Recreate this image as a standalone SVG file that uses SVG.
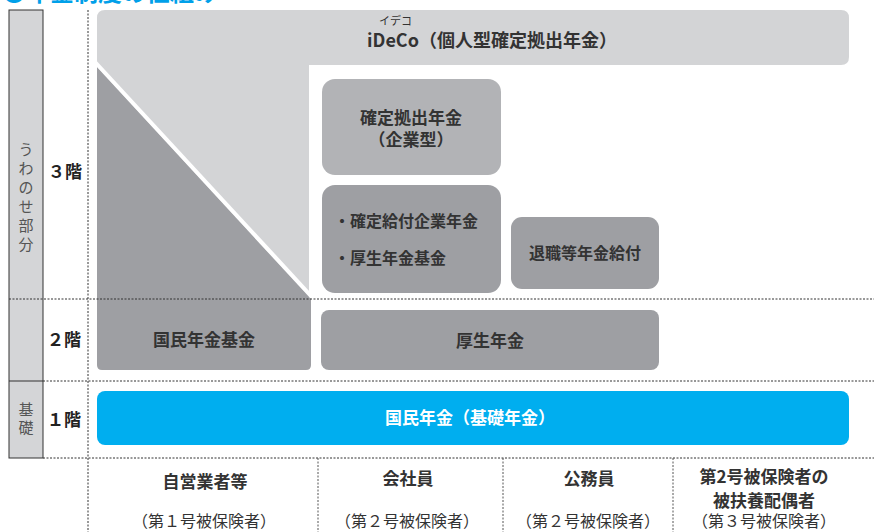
<svg xmlns="http://www.w3.org/2000/svg" width="874" height="532" viewBox="0 0 874 532">
<style>
text{font-family:"Noto Sans CJK JP","Noto Sans",sans-serif;fill:#333;}
.b{font-weight:bold;}
.lv{font-size:17px;font-weight:bold;fill:#222;}
.vt{font-size:15px;fill:#555;text-anchor:middle;}
.c{text-anchor:middle;}
.dot{stroke:#333;stroke-width:1;stroke-dasharray:2 1.5;fill:none;}
.vdot{stroke:#555;stroke-width:1;stroke-dasharray:2 1.5;fill:none;}
.lg{fill:#d3d4d6;}
.dg{fill:#9e9fa3;}
.mg{fill:#b2b3b6;}
</style>
<rect width="874" height="532" fill="#fff"/>
<text x="2" y="1" style="font-size:24px;font-weight:bold;fill:#00a0e9">●年金制度の仕組み</text>

<g id="side">
<rect x="9" y="10" width="34" height="448" fill="#d4d5d7" stroke="#333" stroke-width="1"/>
<line x1="9" y1="381" x2="43" y2="381" stroke="#333" stroke-width="1.2"/>
<text class="vt" x="26" y="155">う</text>
<text class="vt" x="26" y="174">わ</text>
<text class="vt" x="26" y="193">の</text>
<text class="vt" x="26" y="212">せ</text>
<text class="vt" x="26" y="231">部</text>
<text class="vt" x="26" y="250">分</text>
<text class="vt" x="26" y="415">基</text>
<text class="vt" x="26" y="433">礎</text>
</g>

<g id="levels">
<text class="lv" x="48" y="178">３階</text>
<text class="lv" x="47" y="346">２階</text>
<text class="lv" x="47" y="426">１階</text>
</g>

<g id="ideco">
<path class="lg" d="M97,18 Q97,10 105,10 L841,10 Q849,10 849,18 L849,57 Q849,65 841,65 L309,65 L309,299 L97,299 Z"/>
<text x="379" y="25" style="font-size:11px;fill:#333">イデコ</text>
<text class="b c" x="492" y="47" style="font-size:18px">iDeCo（個人型確定拠出年金）</text>
</g>

<g id="kikin">
<path class="dg" d="M97,67 L311,299 L311,365 Q311,370 306,370 L102,370 Q97,370 97,365 Z"/>
<line x1="95" y1="62" x2="312" y2="297" stroke="#fff" stroke-width="4"/>
<text class="b c" x="204" y="346" style="font-size:17px">国民年金基金</text>
</g>

<g id="dc">
<rect class="mg" x="322" y="79" width="179" height="96" rx="13"/>
<text class="b c" x="411" y="124" style="font-size:17px">確定拠出年金</text>
<text class="b c" x="411" y="146" style="font-size:17px">（企業型）</text>
</g>

<g id="db">
<rect class="dg" x="322" y="185" width="179" height="108" rx="13"/>
<text class="b" x="334" y="227" style="font-size:16px">・確定給付企業年金</text>
<text class="b" x="334" y="264" style="font-size:16px">・厚生年金基金</text>
</g>

<g id="taishoku">
<rect class="dg" x="511" y="217" width="148" height="72" rx="11"/>
<text class="b c" x="585" y="259" style="font-size:16px">退職等年金給付</text>
</g>

<g id="kousei">
<rect class="dg" x="321" y="310" width="338" height="60" rx="8"/>
<text class="b c" x="490" y="347" style="font-size:17px">厚生年金</text>
</g>

<g id="kokumin">
<rect x="97" y="391" width="752" height="54" rx="8" fill="#00aeef"/>
<text class="b c" x="470" y="424" style="font-size:17px;fill:#fff">国民年金（基礎年金）</text>
</g>

<g id="connectors">
<line class="dot" x1="88" y1="10" x2="88" y2="532"/>
<line class="dot" x1="9" y1="299" x2="874" y2="299"/>
<line class="dot" x1="43" y1="381" x2="874" y2="381"/>
<line class="dot" x1="43" y1="458" x2="874" y2="458"/>
<line class="vdot" x1="318" y1="458" x2="318" y2="532"/>
<line class="vdot" x1="503" y1="458" x2="503" y2="532"/>
<line class="vdot" x1="673" y1="458" x2="673" y2="532"/>
</g>

<g id="col1">
<text class="b c" x="205" y="488" style="font-size:17px">自営業者等</text>
<text class="c" x="204" y="527" style="font-size:16px">（第１号被保険者）</text>
</g>
<g id="col2">
<text class="b c" x="408" y="485" style="font-size:17px">会社員</text>
<text class="c" x="407" y="527" style="font-size:16px">（第２号被保険者）</text>
</g>
<g id="col3">
<text class="b c" x="589" y="485" style="font-size:17px">公務員</text>
<text class="c" x="588" y="527" style="font-size:16px">（第２号被保険者）</text>
</g>
<g id="col4">
<text class="b c" x="764" y="483" style="font-size:17px">第2号被保険者の</text>
<text class="b c" x="764" y="507" style="font-size:17px">被扶養配偶者</text>
<text class="c" x="764" y="527" style="font-size:16px">（第３号被保険者）</text>
</g>
</svg>
